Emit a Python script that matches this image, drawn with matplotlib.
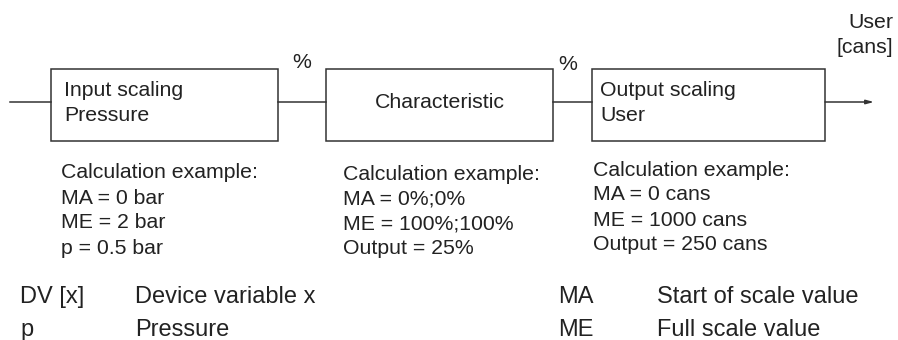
import matplotlib
matplotlib.use("Agg")
import matplotlib.pyplot as plt
from matplotlib.patches import Rectangle

plt.rcParams['font.family'] = ['Liberation Sans', 'DejaVu Sans']

# ---- content ----
box_labels = ["Input scaling\nPressure", "Characteristic", "Output scaling\nUser"]
signal_labels = ["%", "%"]
output_label = "User\n[cans]"
calc_example_1 = ["Calculation example:", "MA = 0 bar", "ME = 2 bar", "p = 0.5 bar"]
calc_example_2 = ["Calculation example:", "MA = 0%;0%", "ME = 100%;100%", "Output = 25%"]
calc_example_3 = ["Calculation example:", "MA = 0 cans", "ME = 1000 cans", "Output = 250 cans"]
legend_left_keys = ["DV [x]", "p"]
legend_left_vals = ["Device variable x", "Pressure"]
legend_right_keys = ["MA", "ME"]
legend_right_vals = ["Start of scale value", "Full scale value"]

TXT = "#222222"
LINE = "#333333"

fig = plt.figure(figsize=(8.98, 3.40), dpi=100)
ax = fig.add_axes([0, 0, 1, 1])
ax.set_xlim(0, 898)
ax.set_ylim(340, 0)
ax.axis('off')

# boxes
boxes = [(51, 278), (326, 553), (592, 825)]
top, bot = 69, 141
ly = 102
for (x0, x1) in boxes:
    ax.add_patch(Rectangle((x0, top), x1 - x0, bot - top, fill=False,
                           edgecolor=LINE, lw=1.1))
# connecting lines
ax.plot([10, 51], [ly, ly], color=LINE, lw=1.1)
ax.plot([278, 326], [ly, ly], color=LINE, lw=1.1)
ax.plot([553, 592], [ly, ly], color=LINE, lw=1.1)
ax.annotate("", xy=(874, ly), xytext=(825, ly),
            arrowprops=dict(arrowstyle="-|>,head_length=0.45,head_width=0.12",
                            color=LINE, lw=1.1, shrinkA=0, shrinkB=0))

fs_box = 15.3
ax.text(64, 103, box_labels[0], ha='left', va='center', fontsize=fs_box,
        color=TXT, linespacing=1.45)
ax.text(440, 102, box_labels[1], ha='center', va='center', fontsize=fs_box,
        color=TXT)
ax.text(600, 103, box_labels[2], ha='left', va='center', fontsize=fs_box,
        color=TXT, linespacing=1.45)

ax.text(302, 62, signal_labels[0], ha='center', va='center', fontsize=fs_box, color=TXT)
ax.text(568, 64, signal_labels[1], ha='center', va='center', fontsize=fs_box, color=TXT)
ax.text(893, 35, output_label, ha='right', va='center', fontsize=fs_box,
        color=TXT, linespacing=1.45, multialignment='right')

fs_calc = 15.3
for xs, lines, y0 in [(61, calc_example_1, 173), (343, calc_example_2, 174),
                      (593, calc_example_3, 170)]:
    for i, s in enumerate(lines):
        ax.text(xs, y0 + i * 25, s, ha='left', va='center', fontsize=fs_calc, color=TXT)

fs_leg = 17.0
for i in range(2):
    y = 297 + i * 33
    ax.text(20, y, legend_left_keys[i], ha='left', va='center', fontsize=fs_leg, color=TXT)
    ax.text(135, y, legend_left_vals[i], ha='left', va='center', fontsize=fs_leg, color=TXT)
    ax.text(558, y, legend_right_keys[i], ha='left', va='center', fontsize=fs_leg, color=TXT)
    ax.text(657, y, legend_right_vals[i], ha='left', va='center', fontsize=fs_leg, color=TXT)

fig.savefig("out.png", dpi=100, facecolor='white')
